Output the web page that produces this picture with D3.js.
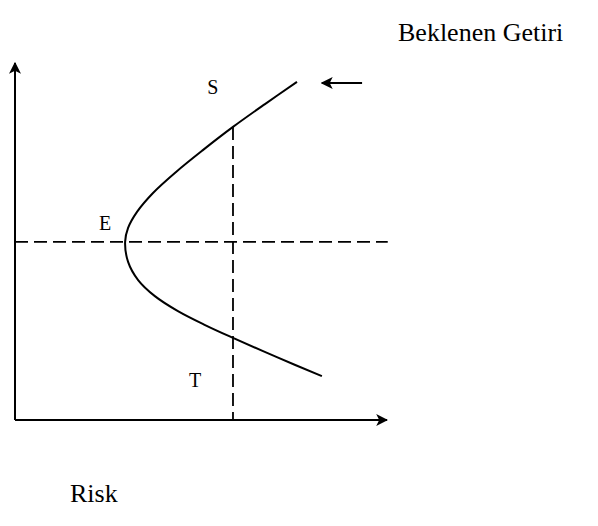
<!DOCTYPE html>
<meta charset="utf-8" />
<style>
  body { margin: 0; background: #fff; }
  text { font-family: "Liberation Serif", "Times New Roman", serif; fill: #000; }
</style>
<body>
  <script src="https://d3js.org/d3.v7.min.js"></script>
  <script>
    // frontier curve, risk vs expected return (arbitrary units 0..10)
    const curveRisk   = [7.58, 6.72, 5.86, 5.05, 4.33, 3.71, 3.28, 3.04, 2.96, 3.04, 3.31, 3.76, 4.38, 5.11, 5.86, 7.04, 8.25];
    const curveReturn = [9.47, 8.85, 8.21, 7.56, 6.95, 6.36, 5.83, 5.38, 4.99, 4.43, 3.92, 3.47, 3.05, 2.66, 2.30, 1.76, 1.23];

    // reference lines
    const minReturn = 4.99;   // horizontal dashed line through E
    const pickRisk = 5.86;    // vertical dashed line
    const pickTop = 8.21;

    // point labels
    const labelNames  = ["S", "E", "T"];
    const labelRisk   = [5.32, 2.42, 4.84];
    const labelReturn = [9.33, 5.52, 1.12];

    // the little arrow at the top right
    const arrowRisk = [9.33, 8.25];
    const arrowReturn = 9.44;

    const yTitle = "Beklenen Getiri";
    const xTitle = "Risk";

    const width = 598, height = 526;

    const svg = d3.select("body").append("svg")
      .attr("width", width)
      .attr("height", height);

    const x = d3.scaleLinear().domain([0, 10]).range([15, 387]);
    const y = d3.scaleLinear().domain([0, 10]).range([420, 63]);

    const defs = svg.append("defs");
    defs.append("marker")
      .attr("id", "head")
      .attr("viewBox", "0 0 10 10")
      .attr("refX", 9).attr("refY", 5)
      .attr("markerWidth", 6).attr("markerHeight", 6)
      .attr("markerUnits", "strokeWidth")
      .attr("orient", "auto")
      .append("path")
      .attr("d", "M0,0 L10,5 L0,10 L2.5,5 Z")
      .attr("fill", "#000");

    // axes, drawn as bare lines with arrow heads
    svg.append("line")
      .attr("x1", x(0)).attr("y1", y(0))
      .attr("x2", x(10)).attr("y2", y(0))
      .attr("stroke", "#000").attr("stroke-width", 2)
      .attr("marker-end", "url(#head)");
    svg.append("line")
      .attr("x1", x(0)).attr("y1", y(0))
      .attr("x2", x(0)).attr("y2", y(10))
      .attr("stroke", "#000").attr("stroke-width", 2)
      .attr("marker-end", "url(#head)");

    // dashed lines
    svg.append("line")
      .attr("x1", x(0)).attr("y1", y(minReturn))
      .attr("x2", x(10.02)).attr("y2", y(minReturn))
      .attr("stroke", "#000").attr("stroke-width", 1.8)
      .attr("stroke-dasharray", "13,6");
    svg.append("line")
      .attr("x1", x(pickRisk)).attr("y1", y(pickTop))
      .attr("x2", x(pickRisk)).attr("y2", y(0))
      .attr("stroke", "#000").attr("stroke-width", 1.8)
      .attr("stroke-dasharray", "13,6");

    // frontier
    const pts = curveRisk.map((r, i) => [r, curveReturn[i]]);
    const line = d3.line()
      .x(d => x(d[0]))
      .y(d => y(d[1]))
      .curve(d3.curveCatmullRom.alpha(0.5));
    svg.append("path")
      .datum(pts)
      .attr("d", line)
      .attr("fill", "none")
      .attr("stroke", "#000")
      .attr("stroke-width", 2);

    // arrow pointing at the curve end
    svg.append("line")
      .attr("x1", x(arrowRisk[0])).attr("y1", y(arrowReturn))
      .attr("x2", x(arrowRisk[1])).attr("y2", y(arrowReturn))
      .attr("stroke", "#000").attr("stroke-width", 2)
      .attr("marker-end", "url(#head)");

    svg.selectAll("text.pt")
      .data(labelNames)
      .join("text")
      .attr("class", "pt")
      .attr("x", (d, i) => x(labelRisk[i]))
      .attr("y", (d, i) => y(labelReturn[i]))
      .attr("text-anchor", "middle")
      .attr("dominant-baseline", "central")
      .style("font-size", "20px")
      .text(d => d);

    svg.append("text")
      .attr("x", 398).attr("y", 41)
      .style("font-size", "26px")
      .text(yTitle);

    svg.append("text")
      .attr("x", 70).attr("y", 502)
      .style("font-size", "26px")
      .text(xTitle);
  </script>
</body>
